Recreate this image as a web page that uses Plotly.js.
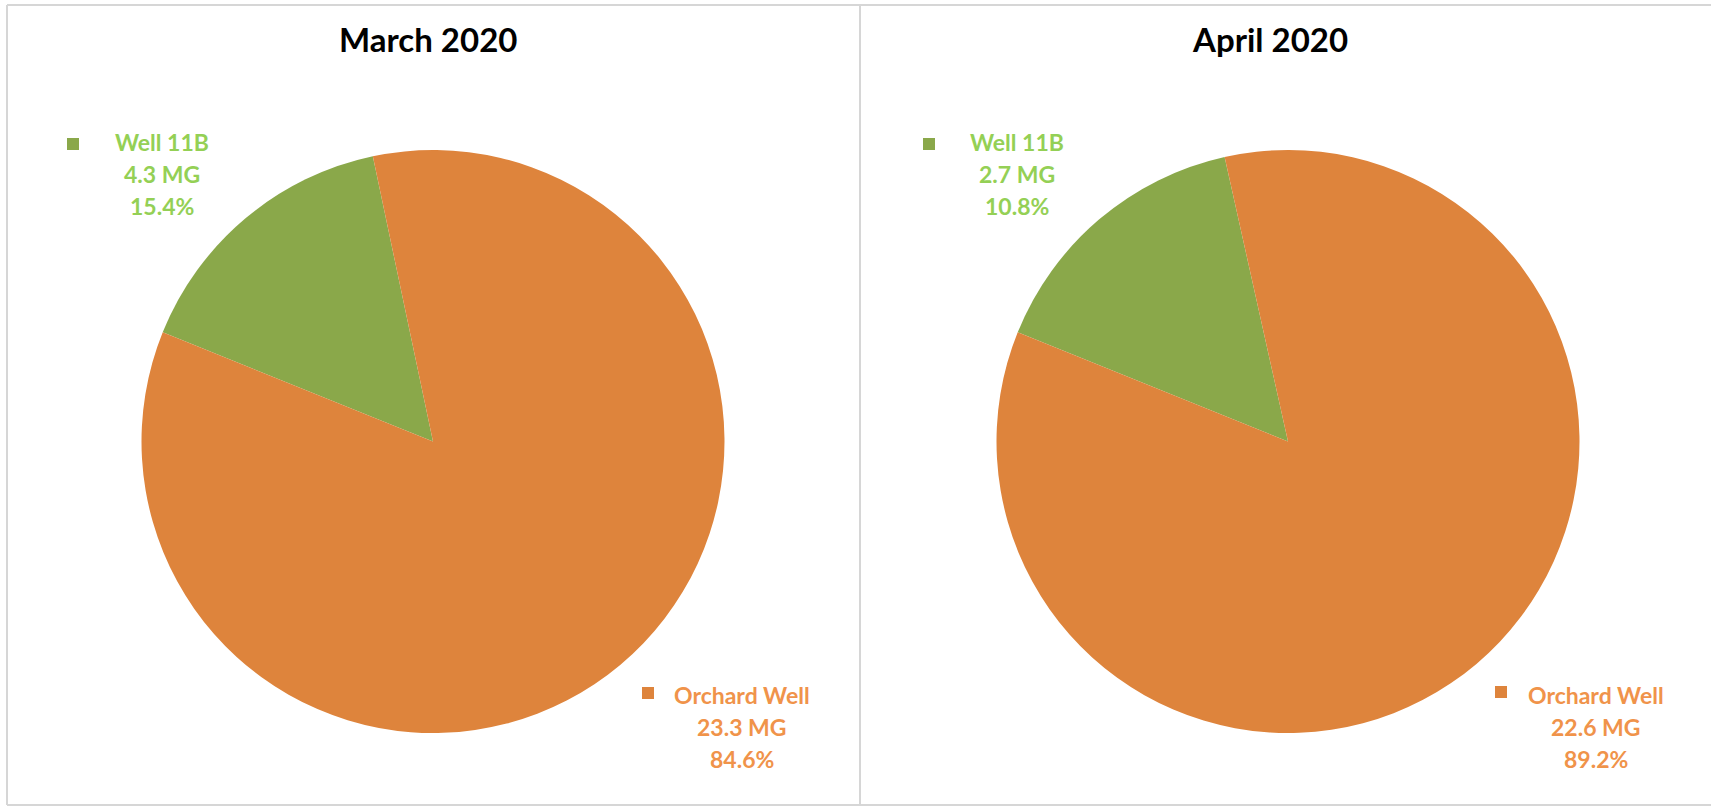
<!DOCTYPE html>
<html>
<head>
<meta charset="utf-8">
<script src="https://cdn.plot.ly/plotly-3.0.1.min.js"></script>
<style>
  html, body { margin: 0; padding: 0; background: #ffffff; }
  #chart { width: 1711px; height: 807px; }
</style>
</head>
<body>
<div id="chart"></div>
<script>
// ---- data ----
const panelTitles = ["March 2020", "April 2020"];
const categories = ["Well 11B", "Orchard Well"];

// March 2020 (million gallons)
const marchMG = [4.3, 23.3];
const marchPct = ["15.4%", "84.6%"];

// April 2020 printed labels (million gallons)
const aprilMG = [2.7, 22.6];
const aprilPct = ["10.8%", "89.2%"];
// Slice sizes as actually drawn in the reference picture for April
// (the drawn wedge spans ~56 degrees, same as March, despite the printed 10.8%)
const aprilDrawnShare = [15.4, 84.6];

// ---- styling ----
const W = 1711, H = 807;
const sliceColors = ["#8aa84a", "#de843c"];
const labelColors = ["#94d055", "#f0934a"];
const fontFam = "Lato, 'Open Sans', sans-serif";
const px = x => x / W;
const py = y => 1 - y / H;

const R = 291.5, CY = 441.5;
const centersX = [433, 1288];

function dom(cx) {
  return { x: [px(cx - R), px(cx + R)], y: [py(CY + R), py(CY - R)] };
}

const traces = [
  {
    type: "pie", labels: categories, values: marchMG, sort: false,
    direction: "clockwise", rotation: -68,
    marker: { colors: sliceColors, line: { width: 0 } },
    textinfo: "none", hoverinfo: "label+value+percent",
    domain: dom(centersX[0]), showlegend: false
  },
  {
    type: "pie", labels: categories, values: aprilDrawnShare, sort: false,
    direction: "clockwise", rotation: -68,
    marker: { colors: sliceColors, line: { width: 0 } },
    textinfo: "none", hoverinfo: "label",
    domain: dom(centersX[1]), showlegend: false
  }
];

// label placement (pixel positions in the reference)
const labelPos = [
  [{ tx: 162, ty: 142, sx: 73, sy: 144 }, { tx: 742, ty: 695, sx: 648, sy: 693 }],
  [{ tx: 1017, ty: 142, sx: 929, sy: 144 }, { tx: 1596, ty: 695, sx: 1501, sy: 692 }]
];
const lineGap = 32;
const panelMG = [marchMG, aprilMG];
const panelPct = [marchPct, aprilPct];

const annotations = [];
const shapes = [];

// titles
const titleX = [427.5, 1270];
panelTitles.forEach((t, i) => {
  annotations.push({
    text: "<b>" + t + "</b>", x: px(titleX[i]), y: py(39),
    xref: "paper", yref: "paper", xanchor: "center", yanchor: "middle",
    showarrow: false, font: { family: fontFam, size: 33, color: "#000000" }
  });
});

for (let p = 0; p < 2; p++) {
  for (let c = 0; c < categories.length; c++) {
    const lp = labelPos[p][c];
    const lines = [categories[c], panelMG[p][c].toFixed(1) + " MG", panelPct[p][c]];
    lines.forEach((ln, k) => {
      annotations.push({
        text: "<b>" + ln + "</b>", x: px(lp.tx), y: py(lp.ty + k * lineGap),
        xref: "paper", yref: "paper", xanchor: "center", yanchor: "middle",
        showarrow: false, font: { family: fontFam, size: 23, color: labelColors[c] }
      });
    });
    const s = 6;
    shapes.push({
      type: "rect", xref: "paper", yref: "paper",
      x0: px(lp.sx - s), x1: px(lp.sx + s), y0: py(lp.sy + s), y1: py(lp.sy - s),
      fillcolor: sliceColors[c], line: { width: 0 }
    });
  }
}

// panel borders
const bc = "#d6d6d6";
[[7, 5, 1711, 5], [7, 5, 7, 805], [7, 805, 1711, 805], [860, 5, 860, 805]].forEach(l => {
  shapes.push({
    type: "line", xref: "paper", yref: "paper",
    x0: px(l[0]), y0: py(l[1]), x1: px(l[2]), y1: py(l[3]),
    line: { color: bc, width: 2 }
  });
});

const layout = {
  width: W, height: H,
  margin: { l: 0, r: 0, t: 0, b: 0 },
  paper_bgcolor: "#ffffff", plot_bgcolor: "#ffffff",
  showlegend: false,
  annotations: annotations,
  shapes: shapes
};

Plotly.newPlot("chart", traces, layout, { displayModeBar: false, staticPlot: true });
</script>
</body>
</html>
